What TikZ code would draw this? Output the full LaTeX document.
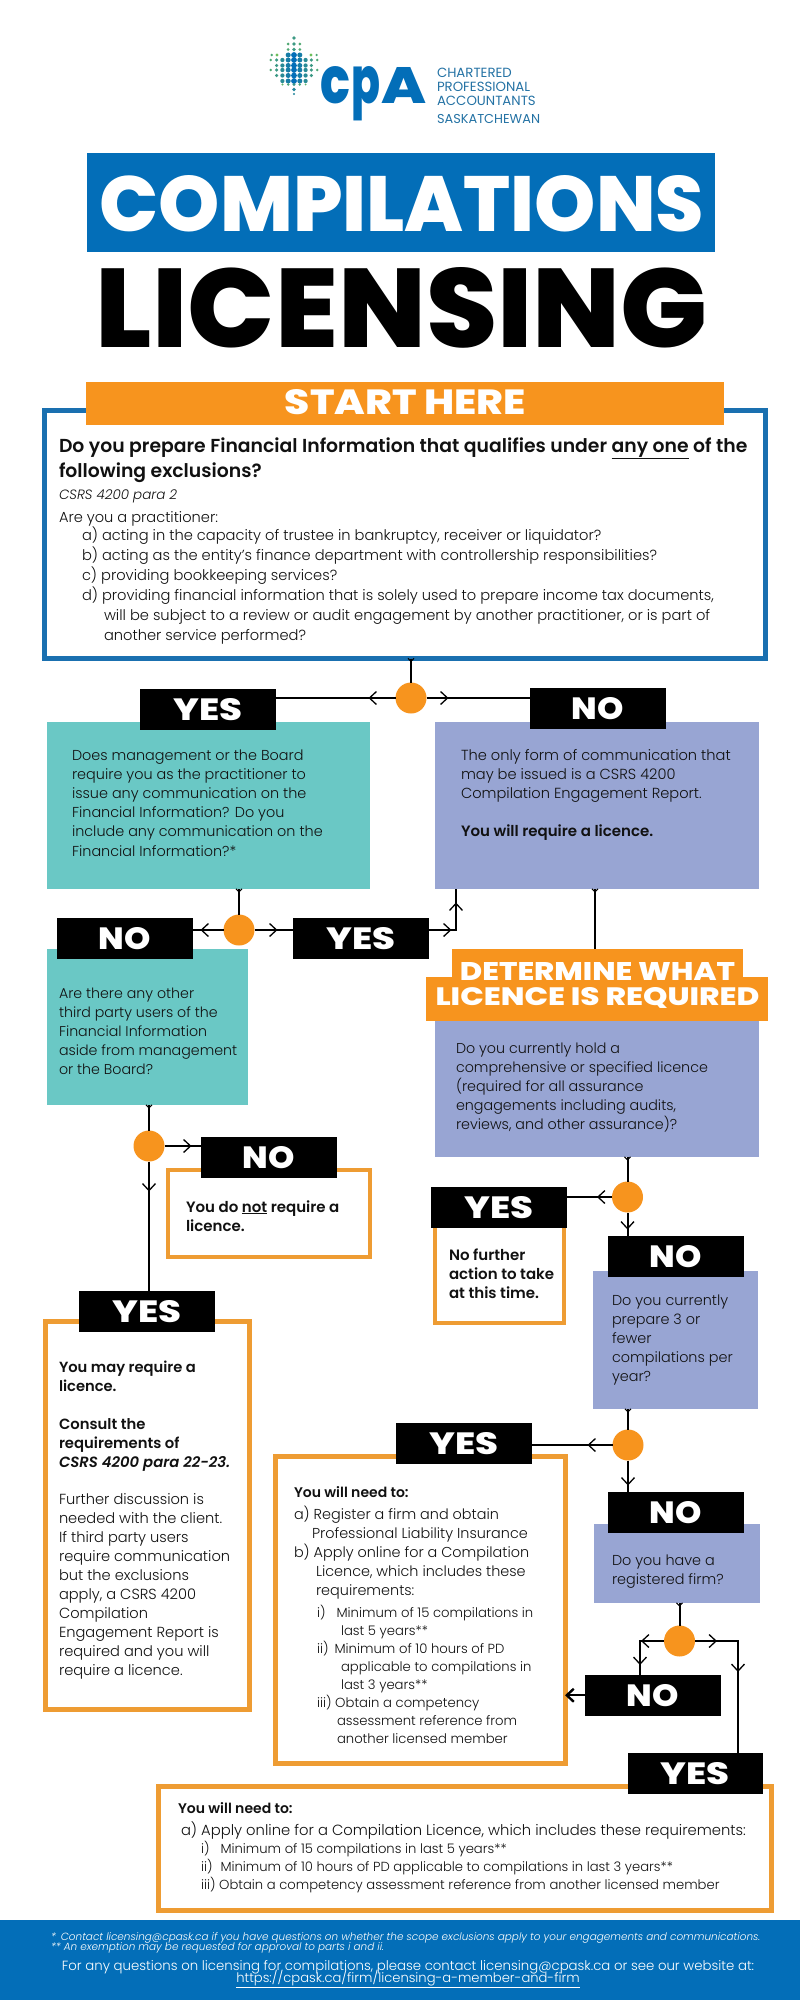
\documentclass[tikz,border=0pt]{standalone}
\usepackage{fontspec}
\setmainfont{Poppins}[UprightFont=* Light,BoldFont=* SemiBold,ItalicFont=* Light Italic,BoldItalicFont=* SemiBold Italic]
\newfontfamily\heavy{Poppins ExtraBold}
\newfontfamily\midf{Poppins}
\usetikzlibrary{arrows.meta,decorations.markings}
\definecolor{cpablue}{HTML}{036EB8}
\definecolor{framebl}{HTML}{1A70B0}
\definecolor{orng}{HTML}{F7941E}
\definecolor{frameor}{HTML}{EE9C33}
\definecolor{teal1}{HTML}{6AC8C5}
\definecolor{purp}{HTML}{98A5D3}
\definecolor{logoblue}{HTML}{2472A4}
\definecolor{leafg}{HTML}{6CBE5A}
\definecolor{ink}{HTML}{111111}
\newcommand\Ln[1]{\hbox{#1}}
\newcommand\blk[3]{\vtop{\fontsize{#1}{#2}\selectfont\baselineskip=#2pt\lineskiplimit=-100pt\lineskip=0pt #3}}
\newcommand\bx[6]{\node[#1,minimum width={(#5-(#3))*1pt},minimum height={(#6-(#4))*1pt}] (#2) at ({(#3+#5)/2},{(#4+#6)/2}) {};}
\newcommand\lab[4]{\node[answer] (#1) at ({#2+67.75},{#3+20.25}) {\resizebox{#4pt}{22pt}{\heavy\fontsize{30}{30}\selectfont\ifnum#4>60 YES\else NO\fi}};}
\tikzset{
 fillbox/.style={rectangle,inner sep=0,outer sep=0,draw=none},
 tealbox/.style={fillbox,fill=teal1},
 purpbox/.style={fillbox,fill=purp},
 orangebox/.style={rectangle,inner sep=0,outer sep=0,fill=orng,text=white},
 frameO/.style={rectangle,inner sep=0,outer sep=0,draw=frameor,line width=5pt,fill=white},
 frameB/.style={rectangle,inner sep=0,outer sep=0,draw=framebl,line width=5.5pt,fill=white},
 answer/.style={rectangle,inner sep=0,outer sep=0,fill=black,text=white,minimum width=135.5pt,minimum height=40.5pt},
 dot/.style={circle,inner sep=0,outer sep=0,fill=orng,minimum size=31pt},
 txt/.style={anchor=base west,inner sep=0,outer sep=0,text=ink},
 link/.style={draw=black,line width=2pt},
 tipat/.style={postaction={decorate,decoration={markings,mark=at position #1pt with {\arrow[line width=1.3pt]{Straight Barb[length=7pt,width=13pt]}}}}},
 stub/.style={postaction={decorate,decoration={markings,mark=at position 3.5pt with {\arrow[line width=1pt]{Straight Barb[length=3pt,width=6pt]}}}}},
}
\begin{document}
\begin{tikzpicture}[x=1pt,y=-1pt]
\useasboundingbox (0,0) rectangle (800,2000);
% logo leaf
\foreach \r/\n/\yy in {0/0/38,1/1/44,2/1/49.5,3/1/55,4/4/60,5/3/65.5,6/4/70,7/3/75.5,8/2/81,9/2/84.5}{
 \foreach \c in {-\n,...,\n}{
  \pgfmathsetmacro\ac{abs(\c)}
  \pgfmathsetmacro\rad{max(1.1,2.9-0.38*\ac-(\r<3?1.0:0)-(\r==9?1.2:0))}
  \pgfmathsetmacro\gr{min(100,\ac*18+(\r<3?55:0)+(\r==9?50:0))}
  \fill[leafg!\gr!cpablue] ({294+5.8*\c},\yy) circle (\rad);
 }}
\fill[leafg!30!cpablue] (294,89.5) circle (1.8);
\fill[leafg!30!cpablue] (294,94) circle (1.1);
\fill[leafg!70!cpablue] (271.7,55) circle (1.3);\fill[leafg] (277,55) circle (1.6);
\fill[leafg] (311,55) circle (1.6);\fill[leafg!70!cpablue] (316.6,55) circle (1.3);
\node[txt,text=cpablue] (logoc) at (320,103) {\resizebox{30pt}{37pt}{\heavy c}};
\node[txt,text=cpablue] (logop) at (351,103) {\resizebox{29pt}{37pt}{\heavy p}};
\node[txt,text=cpablue] (logoa) at (381,103) {\resizebox{45pt}{36pt}{\heavy A}};
\node[txt,text=logoblue] (logot) at (437,77) {\blk{13.3}{14}{\midf\Ln{CHARTERED}\Ln{PROFESSIONAL}\Ln{ACCOUNTANTS}}};
\node[txt,text=logoblue] (logos) at (437,123) {\midf\fontsize{12.9}{14}\selectfont SASKATCHEWAN};
% title
\bx{fillbox,fill=cpablue}{titlebg}{87}{153}{715}{252}
\node[inner sep=0,text=white] (title1) at (402,204) {\resizebox{604pt}{56pt}{\heavy COMPILATIONS}};
\node[inner sep=0,text=black] (title2) at (402,307.5) {\resizebox{612pt}{80pt}{\heavy LICENSING}};
% start frame
\bx{frameB}{start}{44.5}{410.5}{765.5}{658.5}
\bx{orangebox}{starthd}{86}{382}{724}{425}
\node[inner sep=0,text=white] (starttxt) at (405.5,402.5) {\resizebox{241pt}{25pt}{\heavy START HERE}};
\node[txt] (q1) at (59,452) {\blk{18.8}{25}{\bfseries\Ln{Do you prepare Financial Information that qualifies under \underline{any one} of the}\Ln{following exclusions?}}};
\node[txt] (q1c) at (59,499) {\fontsize{13.5}{16}\selectfont\itshape CSRS 4200 para 2};
\node[txt] (q1d) at (59,522) {\fontsize{14.6}{16}\selectfont Are you a practitioner:};
\node[txt] (q1a) at (82,540) {\blk{14.65}{20}{\Ln{a) acting in the capacity of trustee in bankruptcy, receiver or liquidator?}\Ln{b) acting as the entity's finance department with controllership responsibilities?}\Ln{c) providing bookkeeping services?}\Ln{d) providing financial information that is solely used to prepare income tax documents,}\Ln{\hspace{22pt}will be subject to a review or audit engagement by another practitioner, or is part of}\Ln{\hspace{22pt}another service performed?}}};
% row 1
\bx{tealbox}{t1}{47}{722}{370}{889}
\bx{purpbox}{p1}{435}{722}{759}{889}
\node[dot] (c1) at (411,698) {};
\lab{yes1}{140}{689}{69}
\lab{no1}{530}{688}{52}
\draw[link,stub] (start.south -| c1) -- (c1.north);
\draw[link,tipat=27] (c1.west) -- (yes1.east |- c1.west);
\draw[link,tipat=22] (c1.east) -- (no1.west |- c1.east);
\node[txt] (t1t) at (72,760) {\blk{14.4}{19.2}{\Ln{Does management or the Board}\Ln{require you as the practitioner to}\Ln{issue any communication on the}\Ln{Financial Information? Do you}\Ln{include any communication on the}\Ln{Financial Information?*}}};
\node[txt] (p1t) at (461,760) {\blk{14.6}{19.2}{\Ln{The only form of communication that}\Ln{may be issued is a CSRS 4200}\Ln{Compilation Engagement Report.}\Ln{\strut}\Ln{\fontsize{15}{19.2}\selectfont\bfseries You will require a licence.}}};
% row 2
\bx{tealbox}{t2}{47}{949}{248}{1105}
\node[dot] (c2) at (239,930) {};
\lab{no2}{57}{918}{52}
\lab{yes2}{293}{918}{69}
\coordinate (b1) at (456,930);
\draw[link,stub] (t1.south -| c2) -- (c2.north);
\draw[link,tipat=23] (c2.west) -- (no2.east |- c2.west);
\draw[link,tipat=23] (c2.east) -- (yes2.west |- c2.east);
\draw[link,tipat=23,tipat=55,line join=miter] (yes2.east |- c2) -- (b1) -- (p1.south -| b1);
\node[txt] (t2t) at (59,998) {\blk{14.2}{19}{\Ln{Are there any other}\Ln{third party users of the}\Ln{Financial Information}\Ln{aside from management}\Ln{or the Board?}}};
% determine
\bx{purpbox}{p3}{435}{1021}{759}{1157}
\bx{orangebox}{det1}{452}{949}{743}{985}
\bx{orangebox}{det2}{426}{977}{768}{1021}
\coordinate (d0) at (595,889);
\draw[link,stub] (d0) -- (d0 |- det1.north);
\node[inner sep=0,text=white] (det1t) at (597.5,971.5) {\resizebox{275pt}{18pt}{\heavy DETERMINE WHAT}};
\node[inner sep=0,text=white] (det2t) at (597.5,998) {\resizebox{324pt}{18pt}{\heavy LICENCE IS REQUIRED}};
\node[txt] (p3t) at (456,1053) {\blk{14.3}{19}{\Ln{Do you currently hold a}\Ln{comprehensive or specified licence}\Ln{(required for all assurance}\Ln{engagements including audits,}\Ln{reviews, and other assurance)?}}};
% left col
\bx{frameO,line width=4pt}{f2}{168}{1170}{370}{1257}
\node[dot] (c3) at (149,1146) {};
\lab{no3}{201}{1137}{52}
\draw[link,stub] (t2.south -| c3) -- (c3.north);
\draw[link,tipat=27] (c3.east) -- (no3.west |- c3.east);
\node[txt] (f2t) at (186,1212) {\blk{15}{19}{\bfseries\Ln{You do \underline{not} require a}\Ln{licence.}}};
\bx{frameO}{f3}{45.5}{1321.5}{249}{1709.5}
\lab{yes3}{79}{1291}{69}
\draw[link,tipat=30] (c3.south) -- (yes3.north -| c3.south);
\node[txt] (f3a) at (59,1372) {\blk{14.7}{19}{\bfseries\Ln{You may require a}\Ln{licence.}}};
\node[txt] (f3b) at (59,1429) {\blk{14.8}{19}{\bfseries\Ln{Consult the}\Ln{requirements of}\Ln{\itshape CSRS 4200 para 22-23.}}};
\node[txt] (f3c) at (59,1504) {\blk{14.6}{19}{\Ln{Further discussion is}\Ln{needed with the client.}\Ln{If third party users}\Ln{require communication}\Ln{but the exclusions}\Ln{apply, a CSRS 4200}\Ln{Compilation}\Ln{Engagement Report is}\Ln{required and you will}\Ln{require a licence.}}};
% right col
\bx{frameO,line width=4pt}{f4}{435}{1220}{564}{1323}
\node[dot] (c4) at (627.5,1197) {};
\lab{yes4}{431}{1187}{69}
\draw[link,stub] (p3.south -| c4) -- (c4.north);
\draw[link,tipat=15] (c4.west) -- (yes4.east |- c4.west);
\node[txt] (f4t) at (449,1260) {\blk{15}{19}{\bfseries\Ln{No further}\Ln{action to take}\Ln{at this time.}}};
\bx{purpbox}{p4}{593}{1271}{758}{1409}
\lab{no4}{608}{1236}{52}
\draw[link,tipat=17] (c4.south) -- (no4.north -| c4.south);
\node[txt] (p4t) at (612,1305) {\blk{14.4}{19}{\Ln{Do you currently}\Ln{prepare 3 or}\Ln{fewer}\Ln{compilations per}\Ln{year?}}};
\bx{frameO}{f5}{275}{1456}{565}{1763}
\node[dot] (c5) at (628,1445) {};
\lab{yes5}{396}{1423}{69}
\draw[link,stub] (p4.south -| c5) -- (c5.north);
\draw[link,tipat=25] (c5.west) -- (yes5.east |- c5.west);
\node[txt] (f5a) at (294,1497) {\fontsize{14}{19}\selectfont\bfseries You will need to:};
\node[txt] (f5b) at (294,1519) {\blk{14.4}{19}{\Ln{a) Register a firm and obtain}\Ln{\hspace{18pt}Professional Liability Insurance}\Ln{b) Apply online for a Compilation}\Ln{\hspace{22pt}Licence, which includes these}\Ln{\hspace{22pt}requirements:}}};
\node[txt] (f5c) at (317,1617) {\blk{13.2}{18}{\Ln{i)\hspace{11pt}Minimum of 15 compilations in}\Ln{\hspace{24pt}last 5 years**}\Ln{ii)\hspace{6pt}Minimum of 10 hours of PD}\Ln{\hspace{24pt}applicable to compilations in}\Ln{\hspace{24pt}last 3 years**}\Ln{iii) Obtain a competency}\Ln{\hspace{20pt}assessment reference from}\Ln{\hspace{20pt}another licensed member}}};
\bx{purpbox}{p5}{594}{1524}{760}{1603}
\lab{no5}{608}{1492}{52}
\draw[link,tipat=25] (c5.south) -- (no5.north -| c5.south);
\node[txt] (p5t) at (612,1565) {\blk{14.4}{19}{\Ln{Do you have a}\Ln{registered firm?}}};
\node[dot] (c6) at (679.5,1641) {};
\lab{no6}{585}{1675}{52}
\bx{frameO}{f6}{158.5}{1786}{771}{1910}
\lab{yes6}{627.5}{1753}{69}
\coordinate (b2) at (640,1641);
\coordinate (b3) at (738,1641);
\draw[link,stub] (p5.south -| c6) -- (c6.north);
\draw[link,tipat=23,tipat=48,line join=miter] (c6.west) -- (b2) -- (no6.north -| b2);
\draw[link,tipat=22,tipat=74,line join=miter] (c6.east) -- (b3) -- (yes6.north -| b3);
\draw[draw=black,line width=2.4pt,-{Straight Barb[length=7pt,width=13pt]}] (no6.west) -- (f5.east |- no6.west);
\node[txt] (f6a) at (178,1813) {\fontsize{14}{19}\selectfont\bfseries You will need to:};
\node[txt] (f6b) at (181,1835) {\fontsize{14.76}{19}\selectfont a) Apply online for a Compilation Licence, which includes these requirements:};
\node[txt] (f6c) at (201,1853) {\blk{13.15}{18}{\Ln{i)\hspace{11pt}Minimum of 15 compilations in last 5 years**}\Ln{ii)\hspace{8pt}Minimum of 10 hours of PD applicable to compilations in last 3 years**}\Ln{iii) Obtain a competency assessment reference from another licensed member}}};
% footer
\bx{fillbox,fill=cpablue}{foot}{0}{1920}{800}{2000}
\node[txt,text=white] (n1) at (51,1940) {\blk{10.45}{10.5}{\itshape\Ln{*\hspace{5pt}Contact licensing@cpask.ca if you have questions on whether the scope exclusions apply to your engagements and communications.}\Ln{** An exemption may be requested for approval to parts i and ii.}}};
\node[anchor=base,inner sep=0,text=white] (n2) at (408,1970) {\fontsize{13.3}{16}\selectfont For any questions on licensing for compilations, please contact licensing@cpask.ca or see our website at:};
\node[anchor=base,inner sep=0,text=white] (n3) at (408,1982) {\fontsize{13.1}{16}\selectfont\underline{https://cpask.ca/firm/licensing-a-member-and-firm}};
\end{tikzpicture}
\end{document}
